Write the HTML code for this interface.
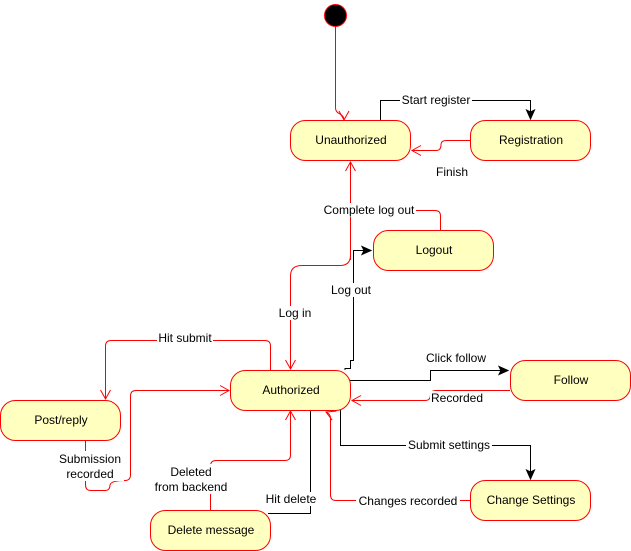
<!DOCTYPE html>
<html><head><meta charset="utf-8"><style>
html,body{margin:0;padding:0;background:#fff;}
svg{display:block;}
text{font-family:"Liberation Sans",Arial,sans-serif;font-size:12px;fill:#000;}
</style></head><body>
<svg width="631" height="551" viewBox="0 0 631 551" xmlns="http://www.w3.org/2000/svg">
<defs>
<marker id="op" markerWidth="12" markerHeight="12" refX="10" refY="6" orient="auto" markerUnits="userSpaceOnUse">
<path d="M1,1 L10,6 L1,11" fill="none" stroke="#f00" stroke-width="1"/></marker>
<marker id="fl" markerWidth="12" markerHeight="12" refX="10" refY="6" orient="auto" markerUnits="userSpaceOnUse">
<path d="M1,2 L10,6 L1,10 L3,6 Z" fill="#000" stroke="#000" stroke-width="1"/></marker>
</defs>
<g fill="none" stroke-width="1">
<!-- initial -->
<path d="M335.5,27 V108 Q335.5,112 340,114 Q344,116 344,120" stroke="#f00" marker-end="url(#op)"/>
<!-- start register -->
<path d="M380.5,120 V100.5 H530.5 V119" stroke="#000" marker-end="url(#fl)"/>
<!-- finish -->
<path d="M470,140.5 H446 Q441,140.5 441,145 Q441,150.5 436,150.5 H412" stroke="#f00" marker-end="url(#op)"/>
<!-- complete log out -->
<path d="M440.5,230 V216 Q440.5,210.5 435,210.5 H350.5" stroke="#f00"/>
<path d="M350.5,260 V162" stroke="#f00" marker-end="url(#op)"/>
<!-- log in -->
<path d="M350.5,255 Q350.5,265.5 340,265.5 H302 Q290.5,265.5 290.5,276 V369" stroke="#f00" marker-end="url(#op)"/>
<!-- log out -->
<path d="M345,370 V368.5 H350.5 V360.5 H353.5 V250.5 H371" stroke="#000" marker-end="url(#fl)"/>
<!-- hit submit -->
<path d="M270.5,370 V346 Q270.5,340.5 265,340.5 H111 Q105.5,340.5 105.5,346 V399" stroke="#f00" marker-end="url(#op)"/>
<!-- submission recorded -->
<path d="M85.5,440 V485 Q85.5,490.5 91,490.5 H105 Q110,490.5 110,485 Q111,480.5 125,480.5 Q130.5,480.5 130.5,475 V396 Q130.5,390.5 136,390.5 H229" stroke="#f00" marker-end="url(#op)"/>
<!-- click follow -->
<path d="M350,380.5 H430.5 V370.5 H508" stroke="#000" marker-end="url(#fl)"/>
<!-- recorded -->
<path d="M510,390.5 H436 Q430.5,390.5 430.5,395 Q430.5,400.5 425,400.5 H352" stroke="#f00" marker-end="url(#op)"/>
<!-- submit settings -->
<path d="M340.5,410 V445.5 H530.5 V479" stroke="#000" marker-end="url(#fl)"/>
<!-- changes recorded -->
<path d="M470,500.5 H336 Q330.5,500.5 330.5,495 V418 Q330.5,414 326,412" stroke="#f00" marker-end="url(#op)"/>
<!-- hit delete -->
<path d="M268,513.5 H310.5 V410" stroke="#000"/>
<!-- deleted from backend -->
<path d="M210.5,510 V466 Q210.5,460.5 216,460.5 H285 Q290.5,460.5 290.5,455 V411" stroke="#f00" marker-end="url(#op)"/>
</g>
<!-- initial node -->
<circle cx="335.5" cy="15.5" r="11" fill="#000" stroke="#f00"/>
<!-- nodes -->
<g fill="#ffffc0" stroke="#f00" stroke-width="1">
<rect x="290.5" y="120.5" width="120" height="40" rx="15"/>
<rect x="470.5" y="120.5" width="120" height="40" rx="15"/>
<rect x="373.5" y="230.5" width="120" height="40" rx="15"/>
<rect x="230.5" y="370.5" width="120" height="40" rx="15"/>
<rect x="510.5" y="360.5" width="120" height="40" rx="15"/>
<rect x="0.5" y="400.5" width="120" height="40" rx="15"/>
<rect x="470.5" y="480.5" width="120" height="40" rx="15"/>
<rect x="150.5" y="510.5" width="120" height="40" rx="15"/>
</g>
<g text-anchor="middle">
<text x="351" y="144">Unauthorized</text>
<text x="531" y="144">Registration</text>
<text x="434" y="254">Logout</text>
<text x="291" y="394">Authorized</text>
<text x="571" y="384">Follow</text>
<text x="61" y="424">Post/reply</text>
<text x="531" y="504">Change Settings</text>
<text x="211" y="534">Delete message</text>
</g>
<!-- labels -->
<g text-anchor="middle">
<rect x="400" y="93" width="72" height="14" fill="#fff"/>
<text x="436" y="104">Start register</text>
<text x="452" y="176">Finish</text>
<rect x="321" y="203" width="95" height="14" fill="#fff"/>
<text x="369" y="214">Complete log out</text>
<rect x="329" y="283" width="44" height="14" fill="#fff"/>
<text x="351" y="294">Log out</text>
<rect x="276" y="306" width="38" height="14" fill="#fff"/>
<text x="295" y="317">Log in</text>
<rect x="157" y="331" width="56" height="14" fill="#fff"/>
<text x="185" y="342">Hit submit</text>
<rect x="56" y="451" width="68" height="30" fill="#fff"/>
<text x="90" y="463">Submission</text>
<text x="90" y="478">recorded</text>
<rect x="152" y="464" width="76" height="30" fill="#fff"/>
<text x="191" y="476">Deleted</text>
<text x="191" y="491">from backend</text>
<rect x="264" y="492" width="54" height="14" fill="#fff"/>
<text x="291" y="503">Hit delete</text>
<text x="456" y="362">Click follow</text>
<rect x="430" y="391" width="54" height="14" fill="#fff"/>
<text x="457" y="402">Recorded</text>
<rect x="406" y="438" width="86" height="14" fill="#fff"/>
<text x="449" y="449">Submit settings</text>
<rect x="356" y="494" width="104" height="14" fill="#fff"/>
<text x="408" y="505">Changes recorded</text>
</g>
</svg>
</body></html>
